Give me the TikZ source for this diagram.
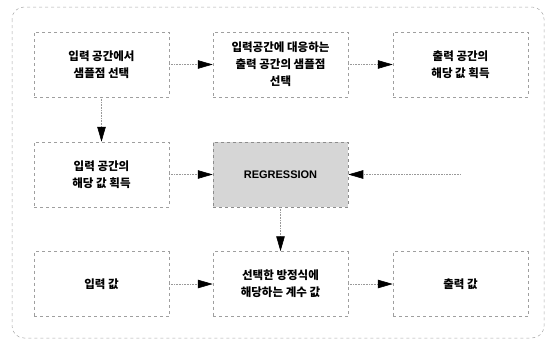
\documentclass[tikz,border=0pt]{standalone}
\usepackage{fontspec}
\setmainfont{Liberation Sans}
\newfontfamily\kr{Noto Sans CJK KR}
\usetikzlibrary{arrows.meta}
\tikzset{
  box/.style={draw=gray!75, dashed, line width=0.5pt, minimum width=135pt, minimum height=65pt, align=center, font=\kr\bfseries\fontsize{11.5}{17}\selectfont, inner sep=0pt},
  regbox/.style={box, fill=gray!32, draw=gray!90, font=\bfseries\fontsize{11}{12}\selectfont},
  conn/.style={draw=gray!80, densely dotted, line width=0.6pt, -{Triangle[length=15pt,width=8.5pt,color=black]}},
  frame/.style={draw=gray!70, dashed, line width=0.5pt, rounded corners=12pt}
}
\begin{document}
\begin{tikzpicture}[x=1pt,y=-1pt]
\useasboundingbox (0,0) rectangle (546,340);
\draw[frame] (12,7) rectangle (544,338);
\node[box] (a1) at (101.5,64.5) {입력 공간에서\\샘플점 선택};
\node[box] (a2) at (280.5,64.5) {입력공간에 대응하는\\출력 공간의 샘플점\\선택};
\node[box] (a3) at (460.5,64.5) {출력 공간의\\해당 값 획득};
\node[box] (b1) at (101.5,174.5) {입력 공간의\\해당 값 획득};
\node[regbox] (b2) at (280.5,174.5) {REGRESSION};
\coordinate (b3) at (460.5,174.5);
\node[box] (c1) at (101.5,284) {입력 값};
\node[box] (c2) at (280.5,284) {선택한 방정식에\\해당하는 계수 값};
\node[box] (c3) at (460.5,284) {출력 값};
\draw[conn] (a1) -- (a2);
\draw[conn] (a2) -- (a3);
\draw[conn] (a1) -- (b1);
\draw[conn] (b1) -- (b2);
\draw[conn] (b3) -- (b2);
\draw[conn] (b2) -- (c2);
\draw[conn] (c1) -- (c2);
\draw[conn] (c2) -- (c3);
\end{tikzpicture}
\end{document}
